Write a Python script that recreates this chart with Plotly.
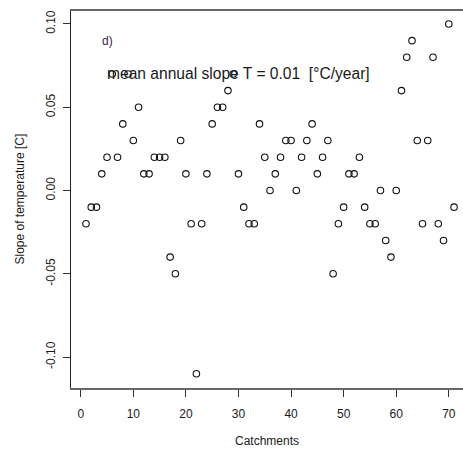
import plotly.graph_objects as go

# Slope of annual mean temperature per catchment
catchments = list(range(1, 72))
slopes = [
    -0.02, -0.01, -0.01, 0.01, 0.02, 0.07, 0.02, 0.04, 0.07, 0.03,
    0.05, 0.01, 0.01, 0.02, 0.02, 0.02, -0.04, -0.05, 0.03, 0.01,
    -0.02, -0.11, -0.02, 0.01, 0.04, 0.05, 0.05, 0.06, 0.07, 0.01,
    -0.01, -0.02, -0.02, 0.04, 0.02, 0.00, 0.01, 0.02, 0.03, 0.03,
    0.00, 0.02, 0.03, 0.04, 0.01, 0.02, 0.03, -0.05, -0.02, -0.01,
    0.01, 0.01, 0.02, -0.01, -0.02, -0.02, 0.00, -0.03, -0.04, 0.00,
    0.06, 0.08, 0.09, 0.03, -0.02, 0.03, 0.08, -0.02, -0.03, 0.10,
    -0.01,
]
x_ticks = [0, 10, 20, 30, 40, 50, 60, 70]
y_ticks = [-0.10, -0.05, 0.00, 0.05, 0.10]
y_tick_labels = ["-0.10", "-0.05", "0.00", "0.05", "0.10"]

panel_label = "d)"
mean_label = "mean annual slope T = 0.01  [°C/year]"

FONT = "Liberation Sans, Arial, sans-serif"
TXT = "#1a1a1a"

fig = go.Figure()
fig.add_trace(go.Scatter(
    x=catchments, y=slopes, mode="markers",
    marker=dict(symbol="circle-open", size=6.5, color="#111111",
                line=dict(width=1.1, color="#111111")),
    showlegend=False, hoverinfo="x+y",
))

fig.add_annotation(x=5, y=0.09, text=panel_label, showarrow=False,
                   font=dict(family=FONT, size=12, color="#3b1f4f"),
                   xanchor="center", yanchor="middle")
fig.add_annotation(x=30, y=0.07, text=mean_label, showarrow=False,
                   font=dict(family=FONT, size=15.6, color=TXT),
                   xanchor="center", yanchor="middle")

# axis titles
fig.add_annotation(xref="paper", yref="paper", x=0.5, y=0, yshift=-53,
                   text="Catchments", showarrow=False,
                   font=dict(family=FONT, size=12, color=TXT),
                   xanchor="center", yanchor="middle")
fig.add_annotation(xref="paper", yref="paper", x=0, y=0.5, xshift=-52,
                   text="Slope of temperature [C]", showarrow=False, textangle=-90,
                   font=dict(family=FONT, size=12, color=TXT),
                   xanchor="center", yanchor="middle")

fig.update_layout(
    width=463, height=453,
    margin=dict(l=71, r=0, t=11, b=65),
    paper_bgcolor="white", plot_bgcolor="white",
    font=dict(family=FONT, size=12, color=TXT),
    xaxis=dict(
        range=[-1.85, 72.7], tickmode="array", tickvals=x_ticks,
        ticks="outside", ticklen=7, tickwidth=1, tickcolor="#333",
        showline=True, linecolor="#666", linewidth=1.5, mirror=True,
        showgrid=False, zeroline=False,
        tickfont=dict(family=FONT, size=12, color=TXT),
        ticklabelstandoff=7,
    ),
    yaxis=dict(
        range=[-0.1186, 0.1078], tickmode="array", tickvals=y_ticks,
        ticktext=y_tick_labels, tickangle=-90,
        ticks="outside", ticklen=7, tickwidth=1, tickcolor="#333",
        showline=True, linecolor="#222", linewidth=1, mirror=False,
        showgrid=False, zeroline=False,
        tickfont=dict(family=FONT, size=12, color=TXT),
        ticklabelstandoff=3,
    ),
)

fig.write_html("out.html")
